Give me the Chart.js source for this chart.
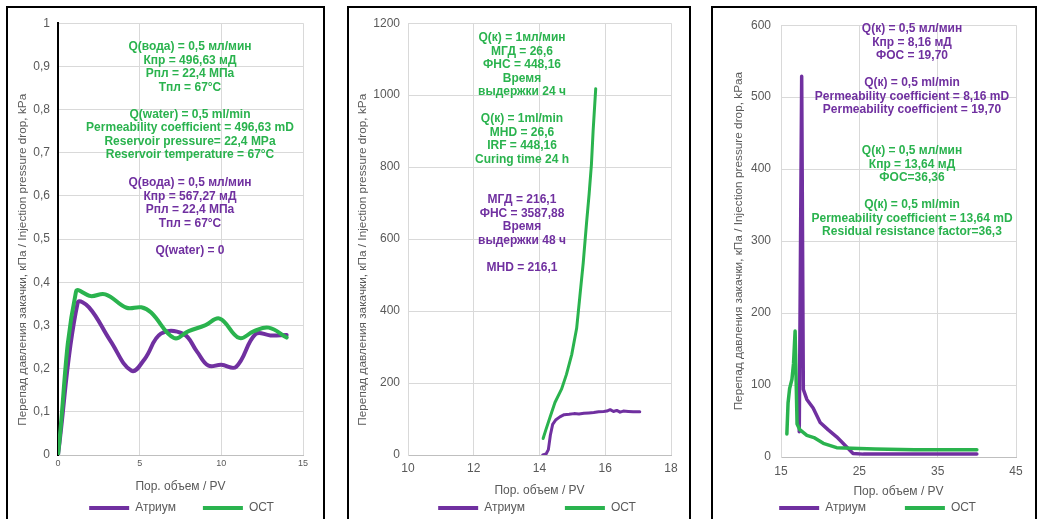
<!DOCTYPE html>
<html>
<head>
<meta charset="utf-8">
<script src="https://cdn.jsdelivr.net/npm/chart.js@4.4.1/dist/chart.umd.min.js"></script>
<style>
  body { margin: 0; width: 1038px; height: 519px; overflow: hidden; background: #fff; position: relative; }
  .panel { position: absolute; top: 6px; border: 2px solid #000; border-bottom: none; }
  .panel canvas { display: block; }
</style>
</head>
<body>
<div class="panel" style="left:6px;width:315px;height:580px"><canvas id="c1" width="315" height="580"></canvas></div>
<div class="panel" style="left:347px;width:340px;height:580px"><canvas id="c2" width="340" height="580"></canvas></div>
<div class="panel" style="left:711px;width:322px;height:580px"><canvas id="c3" width="322" height="580"></canvas></div>
<script>
// --- data: panel 1 (water) ---
var atriumPV1 = [0, 1.2, 1.9, 3.2, 4.5, 5.3, 6.3, 7.7, 8.5, 9.2, 10, 10.9, 12.1, 13, 14];
var atriumDP1 = [0, 0.352, 0.342, 0.265, 0.195, 0.222, 0.281, 0.28, 0.24, 0.207, 0.209, 0.204, 0.28, 0.277, 0.278];
var ostPV1 = [0, 1.1, 2, 2.9, 4.2, 5.1, 5.7, 7.1, 8, 9, 9.9, 11.1, 12, 12.9, 14];
var ostDP1 = [0, 0.378, 0.368, 0.372, 0.341, 0.342, 0.33, 0.271, 0.287, 0.3, 0.316, 0.271, 0.287, 0.295, 0.272];
var xTicks1 = [0, 5, 10, 15];
var xLabels1 = ['0', '5', '10', '15'];
var yTicks1 = [0, 0.1, 0.2, 0.3, 0.4, 0.5, 0.6, 0.7, 0.8, 0.9, 1];
var yLabels1 = ['0', '0,1', '0,2', '0,3', '0,4', '0,5', '0,6', '0,7', '0,8', '0,9', '1'];

// --- data: panel 2 ---
var atriumPV2 = [14.1, 14.2, 14.27, 14.33, 14.4, 14.5, 14.62, 14.75, 14.9, 15.05, 15.2, 15.35, 15.5, 15.65, 15.8, 15.95, 16.05, 16.15, 16.25, 16.35, 16.45, 16.55, 16.7, 16.85, 17.05];
var atriumDP2 = [0, 3, 15, 55, 85, 98, 106, 112, 113, 115, 114, 116, 117, 118, 120, 121, 122, 126, 121, 124, 119, 122, 121, 120, 120];
var ostPV2 = [14.11, 14.2, 14.32, 14.47, 14.67, 14.82, 14.98, 15.13, 15.23, 15.33, 15.43, 15.51, 15.58, 15.63, 15.71];
var ostDP2 = [46, 72, 105, 146, 183, 224, 279, 352, 443, 534, 644, 726, 808, 899, 1018];
var xTicks2 = [10, 12, 14, 16, 18];
var xLabels2 = ['10', '12', '14', '16', '18'];
var yTicks2 = [0, 200, 400, 600, 800, 1000, 1200];
var yLabels2 = ['0', '200', '400', '600', '800', '1000', '1200'];

// --- data: panel 3 ---
var atriumPV3 = [17.33, 17.64, 17.85, 18.3, 19.1, 20, 21, 22.1, 23.2, 24.2, 25.5, 30, 35, 40];
var atriumDP3 = [35, 529, 94, 80, 68, 48, 38, 28, 16, 5, 4, 4, 4, 4];
var ostPV3 = [15.75, 15.9, 16.1, 16.4, 16.6, 16.8, 17.05, 17.4, 18.3, 19.2, 20.4, 22.1, 24, 27, 32, 40];
var ostDP3 = [32, 75, 95, 108, 130, 175, 46, 38, 30, 27, 19, 13, 12, 11, 10, 10];
var xTicks3 = [15, 25, 35, 45];
var xLabels3 = ['15', '25', '35', '45'];
var yTicks3 = [0, 100, 200, 300, 400, 500, 600];
var yLabels3 = ['0', '100', '200', '300', '400', '500', '600'];

// --- notes ---
var notes1Green = ['Q(вода) = 0,5 мл/мин', 'Кпр = 496,63 мД', 'Рпл = 22,4 МПа', 'Тпл = 67°C', '',
  'Q(water) = 0,5 ml/min', 'Permeability coefficient = 496,63 mD', 'Reservoir pressure= 22,4 MPa', 'Reservoir temperature = 67°C'];
var notes1Purple = ['Q(вода) = 0,5 мл/мин', 'Кпр = 567,27 мД', 'Рпл = 22,4 МПа', 'Тпл = 67°C', '', 'Q(water) = 0'];
var notes2Green = ['Q(к) = 1мл/мин', 'МГД = 26,6', 'ФНС = 448,16', 'Время', 'выдержки 24 ч', '',
  'Q(к) = 1ml/min', 'MHD = 26,6', 'IRF = 448,16', 'Curing time 24 h'];
var notes2Purple = ['МГД = 216,1', 'ФНС = 3587,88', 'Время', 'выдержки 48 ч', '', 'MHD = 216,1'];
var notes3Purple = ['Q(к) = 0,5 мл/мин', 'Кпр = 8,16 мД', 'ФОС = 19,70', '',
  'Q(к) = 0,5 ml/min', 'Permeability coefficient = 8,16 mD', 'Permeability coefficient = 19,70'];
var notes3Green = ['Q(к) = 0,5 мл/мин', 'Кпр = 13,64 мД', 'ФОС=36,36', '',
  'Q(к) = 0,5 ml/min', 'Permeability coefficient = 13,64 mD', 'Residual resistance factor=36,3'];

var PURPLE = '#7030a0';
var GREEN = '#2ab34e';
var GRID = '#d9d9d9';
var LABEL = '#595959';
var FONT = '"Liberation Sans", Arial, sans-serif';
var X_TITLE = 'Пор. объем / PV';
var Y_TITLE = 'Перепад давления закачки, кПа / Injection pressure drop, kPa';

function pts(xs, ys) {
    return xs.map(function(x, i) { return {x: x, y: ys[i]}; });
}

// put the legend where the original has it
var legendPlace = {
    id: 'legendPlace',
    afterLayout: function(chart, args, opts) {
        var lg = chart.legend;
        if (!lg) return;
        lg.left += opts.dx;
        lg.right += opts.dx;
        var pad = lg.options.labels.padding;
        lg.top = opts.cy - pad - 6;
        lg.bottom = lg.top + lg.height;
    }
};

// text notes inside the plot
var notes = {
    id: 'notes',
    afterDraw: function(chart, args, opts) {
        var ctx = chart.ctx;
        ctx.save();
        ctx.font = 'bold 12px ' + FONT;
        ctx.textAlign = 'center';
        ctx.textBaseline = 'middle';
        (opts.blocks || []).forEach(function(b) {
            ctx.fillStyle = b.color;
            b.lines.forEach(function(t, i) {
                if (t) ctx.fillText(t, opts.x, b.y + i * 13.5);
            });
        });
        ctx.restore();
    }
};

function makeChart(id, p) {
    return new Chart(document.getElementById(id), {
        type: 'scatter',
        data: {
            datasets: [
                { label: 'Атриум', data: pts(p.ax, p.ay), borderColor: PURPLE, backgroundColor: PURPLE,
                  borderWidth: p.lw, showLine: true, pointRadius: 0, tension: p.tension,
                  borderJoinStyle: 'round', borderCapStyle: 'round', order: 1 },
                { label: 'ОСТ', data: pts(p.gx, p.gy), borderColor: GREEN, backgroundColor: GREEN,
                  borderWidth: p.lw, showLine: true, pointRadius: 0, tension: p.tension,
                  borderJoinStyle: 'round', borderCapStyle: 'round', order: 0 }
            ]
        },
        options: {
            responsive: false,
            animation: false,
            devicePixelRatio: 1,
            layout: { padding: p.pad },
            scales: {
                x: {
                    type: 'linear', min: p.xTicks[0], max: p.xTicks[p.xTicks.length - 1],
                    afterBuildTicks: function(s) { s.ticks = p.xTicks.map(function(v) { return {value: v}; }); },
                    afterFit: function(s) { s.height = 45; },
                    ticks: { autoSkip: false, maxRotation: 0, padding: p.xPad, color: LABEL,
                             font: { family: FONT, size: p.xFont },
                             callback: function(v) { return p.xLabels[p.xTicks.indexOf(v)]; } },
                    grid: { color: GRID, drawTicks: false },
                    border: { color: '#bfbfbf' },
                    title: { display: true, text: X_TITLE, color: LABEL, font: { family: FONT, size: 12 },
                             padding: { top: 0, bottom: p.xTitlePad } }
                },
                y: {
                    type: 'linear', min: p.yTicks[0], max: p.yTicks[p.yTicks.length - 1],
                    afterBuildTicks: function(s) { s.ticks = p.yTicks.map(function(v) { return {value: v}; }); },
                    afterFit: function(s) { s.width = p.yW; },
                    ticks: { autoSkip: false, padding: p.yPad, color: LABEL, font: { family: FONT, size: 12 },
                             callback: function(v) { return p.yLabels[p.yTicks.indexOf(v)]; } },
                    grid: { color: GRID, drawTicks: false },
                    border: p.yBorder,
                    title: { display: true, text: p.yTitle, color: LABEL, font: { family: FONT, size: 11.8 },
                             padding: { top: p.yTitlePad, bottom: 0 } }
                }
            },
            plugins: {
                tooltip: { enabled: false },
                legend: {
                    position: 'bottom',
                    labels: {
                        boxWidth: 40, boxHeight: 4, padding: p.legendGap, color: LABEL,
                        font: { family: FONT, size: 12 },
                        sort: function(a, b) { return a.datasetIndex - b.datasetIndex; },
                        generateLabels: function(c) {
                            return Chart.defaults.plugins.legend.labels.generateLabels(c).map(function(l) {
                                l.lineWidth = 0;
                                return l;
                            });
                        }
                    }
                },
                legendPlace: { dx: p.legendDx, cy: 500 },
                notes: { x: p.noteX, blocks: p.blocks }
            }
        },
        plugins: [legendPlace, notes]
    });
}

// canvas is 580 high (lower part hidden); plot bottom is set by the bottom padding
makeChart('c1', {
    ax: atriumPV1, ay: atriumDP1, gx: ostPV1, gy: ostDP1, lw: 4, tension: 0.4,
    xTicks: xTicks1, xLabels: xLabels1, yTicks: yTicks1, yLabels: yLabels1,
    pad: { left: 0, top: 10, right: 20, bottom: 39 },
    xPad: 3, xFont: 9, xTitlePad: 6,
    yW: 50, yPad: 8, yTitlePad: 7.2, yTitle: Y_TITLE + '\u2002'.repeat(7),
    yBorder: { color: '#000', width: 2 },
    legendGap: 27, legendDx: 26,
    noteX: 182,
    blocks: [{ color: GREEN, y: 39, lines: notes1Green }, { color: PURPLE, y: 175, lines: notes1Purple }]
});

makeChart('c2', {
    ax: atriumPV2, ay: atriumDP2, gx: ostPV2, gy: ostDP2, lw: 3, tension: 0,
    xTicks: xTicks2, xLabels: xLabels2, yTicks: yTicks2, yLabels: yLabels2,
    pad: { left: 0, top: 9, right: 18, bottom: 26 },
    xPad: 6, xFont: 12, xTitlePad: 2.6,
    yW: 59, yPad: 8, yTitlePad: 6.2, yTitle: Y_TITLE + '\u2002'.repeat(7),
    yBorder: { color: GRID },
    legendGap: 40, legendDx: 27,
    noteX: 173,
    blocks: [{ color: GREEN, y: 30, lines: notes2Green }, { color: PURPLE, y: 192, lines: notes2Purple }]
});

makeChart('c3', {
    ax: atriumPV3, ay: atriumDP3, gx: ostPV3, gy: ostDP3, lw: 3.5, tension: 0,
    xTicks: xTicks3, xLabels: xLabels3, yTicks: yTicks3, yLabels: yLabels3,
    pad: { left: 0, top: 8, right: 19, bottom: 25 },
    xPad: 7, xFont: 12, xTitlePad: 3.6,
    yW: 68, yPad: 10, yTitlePad: 18.2, yTitle: 'Перепад давления закачки, кПа / Injection pressure drop, kPaa',
    yBorder: { color: GRID },
    legendGap: 39, legendDx: 13,
    noteX: 199,
    blocks: [{ color: PURPLE, y: 21, lines: notes3Purple }, { color: GREEN, y: 143, lines: notes3Green }]
});
</script>
</body>
</html>
